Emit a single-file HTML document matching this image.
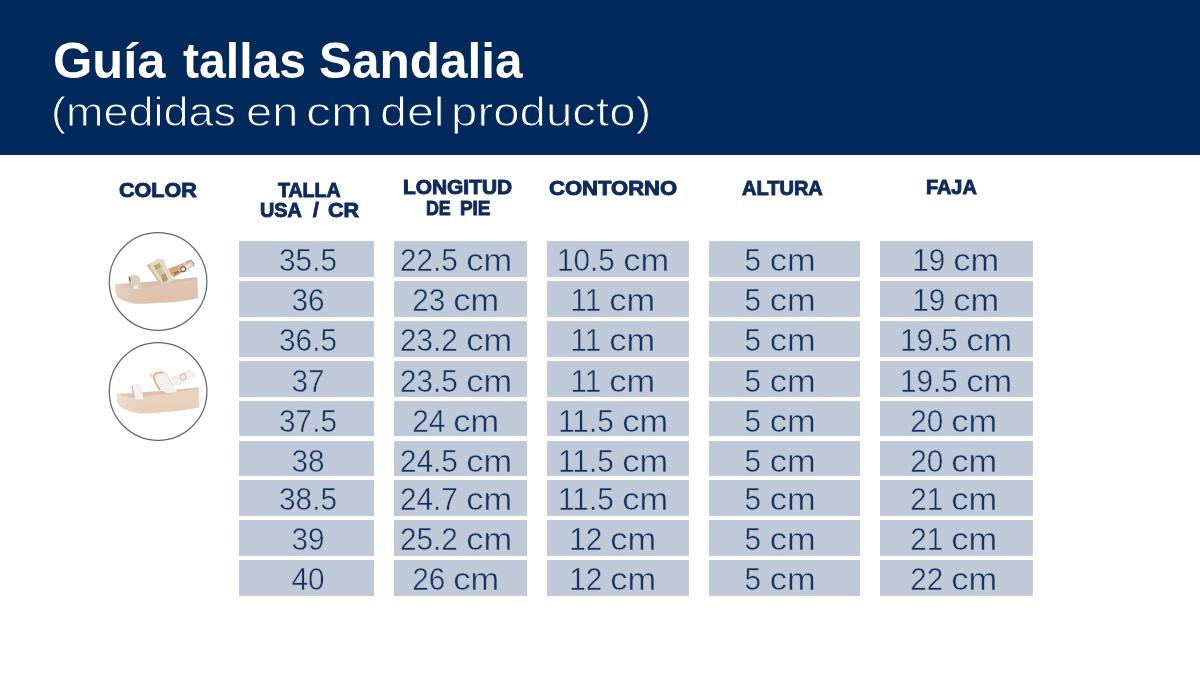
<!DOCTYPE html>
<html lang="es">
<head>
<meta charset="utf-8">
<title>Guía tallas Sandalia</title>
<style>
html,body{margin:0;padding:0;}
body{width:1200px;height:697px;position:relative;overflow:hidden;background:#fff;font-family:"Liberation Sans",sans-serif;}
.hdr{position:absolute;left:0;top:0;width:1200px;height:155px;background:#02295c;}
.g{margin:0;padding:0;font-size:0;font-weight:normal;}
.p{position:absolute;line-height:1;white-space:pre;transform-origin:0 0;}
.t1{color:#fff;font-weight:bold;font-size:49.5px;}
.t2{color:#fff;font-size:41.4px;-webkit-text-stroke:1.0px #02295c;}
.h{color:#0f2b5b;font-weight:bold;font-size:20.8px;-webkit-text-stroke:1.0px #0f2b5b;}
.c{position:absolute;height:35.7px;background:#bfc9d8;}
.v{position:absolute;width:200px;height:35.7px;line-height:39.9px;color:#14335f;font-size:32px;text-align:center;white-space:nowrap;-webkit-text-stroke:0.5px #bfc9d8;transform:scaleX(0.93);}
.u{display:inline-block;width:49.5px;text-align:left;}
.u b{display:inline-block;font-weight:normal;transform:scaleX(1.158);transform-origin:0 50%;}
svg{position:absolute;left:0;top:0;}
</style>
</head>
<body>
<div class="hdr"></div>
<h1 class="g">
<span class="p t1" style="left:52.56px;top:36.10px;transform:scaleX(1.0222)">Guía</span>
<span class="p t1" style="left:182.78px;top:36.10px;transform:scaleX(0.9720)">tallas</span>
<span class="p t1" style="left:319.25px;top:36.10px;transform:scaleX(1.0002)">Sandalia</span>
</h1>
<p class="g">
<span class="p t2" style="left:50.89px;top:91.65px;transform:scaleX(1.0873)">(medidas</span>
<span class="p t2" style="left:245.66px;top:91.65px;transform:scaleX(1.1350)">en</span>
<span class="p t2" style="left:305.88px;top:91.65px;transform:scaleX(1.2082)">cm</span>
<span class="p t2" style="left:380.08px;top:91.65px;transform:scaleX(1.1694)">del</span>
<span class="p t2" style="left:451.19px;top:91.65px;transform:scaleX(1.1458)">producto)</span>
</p>
<div class="g">
<span class="p h" style="left:119.48px;top:179.69px;transform:scaleX(1.0365)">COLOR</span>
<span class="p h" style="left:278.47px;top:179.69px;transform:scaleX(0.9403)">TALLA</span>
<span class="p h" style="left:260.02px;top:200.39px;transform:scaleX(0.9535)">USA</span>
<span class="p h" style="left:313.00px;top:200.39px;transform:scaleX(1.0000)">/</span>
<span class="p h" style="left:328.48px;top:200.39px;transform:scaleX(1.0345)">CR</span>
<span class="p h" style="left:403.00px;top:177.39px;transform:scaleX(1.0046)">LONGITUD</span>
<span class="p h" style="left:426.07px;top:198.19px;transform:scaleX(0.8571)">DE</span>
<span class="p h" style="left:459.55px;top:198.19px;transform:scaleX(0.9091)">PIE</span>
<span class="p h" style="left:549.22px;top:177.59px;transform:scaleX(1.0596)">CONTORNO</span>
<span class="p h" style="left:741.92px;top:177.69px;transform:scaleX(0.9627)">ALTURA</span>
<span class="p h" style="left:926.42px;top:176.79px;transform:scaleX(0.9547)">FAJA</span>
</div>

<div class="c" style="left:239.2px;top:241.30px;width:135.1px"></div>
<div class="v" style="left:208.3px;top:241.30px"><span class="n">35.5</span></div>
<div class="c" style="left:394.0px;top:241.30px;width:133.1px"></div>
<div class="v" style="left:355.5px;top:241.30px"><span class="n">22.5</span> <span class="u"><b>cm</b></span></div>
<div class="c" style="left:546.8px;top:241.30px;width:142.5px"></div>
<div class="v" style="left:512.5px;top:241.30px"><span class="n">10.5</span> <span class="u"><b>cm</b></span></div>
<div class="c" style="left:709.0px;top:241.30px;width:150.6px"></div>
<div class="v" style="left:680.2px;top:241.30px"><span class="n">5</span> <span class="u"><b>cm</b></span></div>
<div class="c" style="left:879.5px;top:241.30px;width:153.8px"></div>
<div class="v" style="left:855.7px;top:241.30px"><span class="n">19</span> <span class="u"><b>cm</b></span></div>
<div class="c" style="left:239.2px;top:281.14px;width:135.1px"></div>
<div class="v" style="left:208.3px;top:281.14px"><span class="n">36</span></div>
<div class="c" style="left:394.0px;top:281.14px;width:133.1px"></div>
<div class="v" style="left:355.5px;top:281.14px"><span class="n">23</span> <span class="u"><b>cm</b></span></div>
<div class="c" style="left:546.8px;top:281.14px;width:142.5px"></div>
<div class="v" style="left:512.5px;top:281.14px"><span class="n">11</span> <span class="u"><b>cm</b></span></div>
<div class="c" style="left:709.0px;top:281.14px;width:150.6px"></div>
<div class="v" style="left:680.2px;top:281.14px"><span class="n">5</span> <span class="u"><b>cm</b></span></div>
<div class="c" style="left:879.5px;top:281.14px;width:153.8px"></div>
<div class="v" style="left:855.7px;top:281.14px"><span class="n">19</span> <span class="u"><b>cm</b></span></div>
<div class="c" style="left:239.2px;top:320.98px;width:135.1px"></div>
<div class="v" style="left:208.3px;top:320.98px"><span class="n">36.5</span></div>
<div class="c" style="left:394.0px;top:320.98px;width:133.1px"></div>
<div class="v" style="left:355.5px;top:320.98px"><span class="n">23.2</span> <span class="u"><b>cm</b></span></div>
<div class="c" style="left:546.8px;top:320.98px;width:142.5px"></div>
<div class="v" style="left:512.5px;top:320.98px"><span class="n">11</span> <span class="u"><b>cm</b></span></div>
<div class="c" style="left:709.0px;top:320.98px;width:150.6px"></div>
<div class="v" style="left:680.2px;top:320.98px"><span class="n">5</span> <span class="u"><b>cm</b></span></div>
<div class="c" style="left:879.5px;top:320.98px;width:153.8px"></div>
<div class="v" style="left:855.7px;top:320.98px"><span class="n">19.5</span> <span class="u"><b>cm</b></span></div>
<div class="c" style="left:239.2px;top:360.82px;width:135.1px"></div>
<div class="v" style="left:208.3px;top:361.82px"><span class="n">37</span></div>
<div class="c" style="left:394.0px;top:360.82px;width:133.1px"></div>
<div class="v" style="left:355.5px;top:361.82px"><span class="n">23.5</span> <span class="u"><b>cm</b></span></div>
<div class="c" style="left:546.8px;top:360.82px;width:142.5px"></div>
<div class="v" style="left:512.5px;top:361.82px"><span class="n">11</span> <span class="u"><b>cm</b></span></div>
<div class="c" style="left:709.0px;top:360.82px;width:150.6px"></div>
<div class="v" style="left:680.2px;top:361.82px"><span class="n">5</span> <span class="u"><b>cm</b></span></div>
<div class="c" style="left:879.5px;top:360.82px;width:153.8px"></div>
<div class="v" style="left:855.7px;top:361.82px"><span class="n">19.5</span> <span class="u"><b>cm</b></span></div>
<div class="c" style="left:239.2px;top:400.66px;width:135.1px"></div>
<div class="v" style="left:208.3px;top:401.66px"><span class="n">37.5</span></div>
<div class="c" style="left:394.0px;top:400.66px;width:133.1px"></div>
<div class="v" style="left:355.5px;top:401.66px"><span class="n">24</span> <span class="u"><b>cm</b></span></div>
<div class="c" style="left:546.8px;top:400.66px;width:142.5px"></div>
<div class="v" style="left:512.5px;top:401.66px"><span class="n">11.5</span> <span class="u"><b>cm</b></span></div>
<div class="c" style="left:709.0px;top:400.66px;width:150.6px"></div>
<div class="v" style="left:680.2px;top:401.66px"><span class="n">5</span> <span class="u"><b>cm</b></span></div>
<div class="c" style="left:879.5px;top:400.66px;width:153.8px"></div>
<div class="v" style="left:854.4px;top:401.66px"><span class="n">20</span> <span class="u"><b>cm</b></span></div>
<div class="c" style="left:239.2px;top:440.50px;width:135.1px"></div>
<div class="v" style="left:208.3px;top:441.50px"><span class="n">38</span></div>
<div class="c" style="left:394.0px;top:440.50px;width:133.1px"></div>
<div class="v" style="left:355.5px;top:441.50px"><span class="n">24.5</span> <span class="u"><b>cm</b></span></div>
<div class="c" style="left:546.8px;top:440.50px;width:142.5px"></div>
<div class="v" style="left:512.5px;top:441.50px"><span class="n">11.5</span> <span class="u"><b>cm</b></span></div>
<div class="c" style="left:709.0px;top:440.50px;width:150.6px"></div>
<div class="v" style="left:680.2px;top:441.50px"><span class="n">5</span> <span class="u"><b>cm</b></span></div>
<div class="c" style="left:879.5px;top:440.50px;width:153.8px"></div>
<div class="v" style="left:854.4px;top:441.50px"><span class="n">20</span> <span class="u"><b>cm</b></span></div>
<div class="c" style="left:239.2px;top:480.34px;width:135.1px"></div>
<div class="v" style="left:208.3px;top:480.34px"><span class="n">38.5</span></div>
<div class="c" style="left:394.0px;top:480.34px;width:133.1px"></div>
<div class="v" style="left:355.5px;top:480.34px"><span class="n">24.7</span> <span class="u"><b>cm</b></span></div>
<div class="c" style="left:546.8px;top:480.34px;width:142.5px"></div>
<div class="v" style="left:512.5px;top:480.34px"><span class="n">11.5</span> <span class="u"><b>cm</b></span></div>
<div class="c" style="left:709.0px;top:480.34px;width:150.6px"></div>
<div class="v" style="left:680.2px;top:480.34px"><span class="n">5</span> <span class="u"><b>cm</b></span></div>
<div class="c" style="left:879.5px;top:480.34px;width:153.8px"></div>
<div class="v" style="left:854.4px;top:480.34px"><span class="n">21</span> <span class="u"><b>cm</b></span></div>
<div class="c" style="left:239.2px;top:520.18px;width:135.1px"></div>
<div class="v" style="left:208.3px;top:520.18px"><span class="n">39</span></div>
<div class="c" style="left:394.0px;top:520.18px;width:133.1px"></div>
<div class="v" style="left:355.5px;top:520.18px"><span class="n">25.2</span> <span class="u"><b>cm</b></span></div>
<div class="c" style="left:546.8px;top:520.18px;width:142.5px"></div>
<div class="v" style="left:512.5px;top:520.18px"><span class="n">12</span> <span class="u"><b>cm</b></span></div>
<div class="c" style="left:709.0px;top:520.18px;width:150.6px"></div>
<div class="v" style="left:680.2px;top:520.18px"><span class="n">5</span> <span class="u"><b>cm</b></span></div>
<div class="c" style="left:879.5px;top:520.18px;width:153.8px"></div>
<div class="v" style="left:854.4px;top:520.18px"><span class="n">21</span> <span class="u"><b>cm</b></span></div>
<div class="c" style="left:239.2px;top:560.02px;width:135.1px"></div>
<div class="v" style="left:208.3px;top:560.02px"><span class="n">40</span></div>
<div class="c" style="left:394.0px;top:560.02px;width:133.1px"></div>
<div class="v" style="left:355.5px;top:560.02px"><span class="n">26</span> <span class="u"><b>cm</b></span></div>
<div class="c" style="left:546.8px;top:560.02px;width:142.5px"></div>
<div class="v" style="left:512.5px;top:560.02px"><span class="n">12</span> <span class="u"><b>cm</b></span></div>
<div class="c" style="left:709.0px;top:560.02px;width:150.6px"></div>
<div class="v" style="left:680.2px;top:560.02px"><span class="n">5</span> <span class="u"><b>cm</b></span></div>
<div class="c" style="left:879.5px;top:560.02px;width:153.8px"></div>
<div class="v" style="left:854.4px;top:560.02px"><span class="n">22</span> <span class="u"><b>cm</b></span></div>

<svg width="1200" height="697" viewBox="0 0 1200 697">
<defs>
<filter id="bl" x="-10%" y="-10%" width="120%" height="120%"><feGaussianBlur stdDeviation="8"/></filter>
<linearGradient id="sg1" x1="0" y1="0" x2="0" y2="1"><stop offset="0" stop-color="#e0c6b4"/><stop offset="1" stop-color="#dcc1ab"/></linearGradient>
<linearGradient id="sg2" x1="0" y1="0" x2="0" y2="1"><stop offset="0" stop-color="#ead4c2"/><stop offset="1" stop-color="#e7ceb8"/></linearGradient>
<linearGradient id="bs1" gradientUnits="userSpaceOnUse" x1="700" y1="260" x2="1000" y2="150"><stop offset="0" stop-color="#d9a066"/><stop offset="0.45" stop-color="#d9ab92"/><stop offset="1" stop-color="#e9d6cd"/></linearGradient>
<linearGradient id="fade" gradientUnits="userSpaceOnUse" x1="80" y1="0" x2="380" y2="0"><stop offset="0" stop-color="#fff" stop-opacity="0.25"/><stop offset="1" stop-color="#fff" stop-opacity="0"/></linearGradient>
</defs>
<!-- sandal 1 : gold -->
<g transform="translate(108,250) scale(0.08606)" filter="url(#bl)">
<path d="M85,395 C300,388 700,352 1040,316 L1048,560 C900,592 720,612 600,613 C470,626 360,630 300,621 C200,602 130,572 105,540 C85,500 76,440 85,395 Z" fill="url(#sg1)"/>
<path d="M98,398 C330,390 720,352 1032,320 L1034,338 C840,366 640,400 440,425 C330,440 180,440 120,425 Z" fill="#dcbaac"/>
<rect x="70" y="370" width="320" height="270" fill="url(#fade)"/>
<!-- back strap -->
<path d="M698,218 L965,116 L1002,160 L990,190 L770,318 L735,296 Z" fill="url(#bs1)"/>
<path d="M905,145 L965,120 L1000,162 L985,188" fill="none" stroke="#9a8a82" stroke-width="12"/>
<path d="M820,222 L948,160 L970,175 L958,195 L850,250 Z" fill="#f1e4dc"/>
<circle cx="874" cy="224" r="30" fill="none" stroke="#4a403a" stroke-width="11"/>
<path d="M760,262 L820,240 L830,262 L775,290 Z" fill="#8c7a62"/>
<!-- mid strap -->
<path d="M448,178 L585,100 L650,112 C680,200 730,300 768,350 L650,398 L590,386 C545,300 492,240 448,178 Z" fill="#e2dac4"/>
<path d="M448,178 L478,166 C522,250 585,335 628,395 L590,386 C545,300 492,240 448,178 Z" fill="#dbb2a2"/>
<path d="M530,180 L600,150 L625,200 L560,235 Z" fill="#bda877"/>
<path d="M610,290 L665,270 L700,350 L640,380 Z" fill="#aa9c6c"/>
<path d="M560,235 L625,205 L660,270 L600,300 Z" fill="#cbc3a8"/>
<!-- front strap -->
<path d="M236,312 C250,288 330,282 352,300 C376,330 386,400 386,446 L300,456 C296,420 286,382 270,360 C256,342 240,332 236,312 Z" fill="#d6d3bf"/>
<path d="M240,318 L262,330 L272,395 L250,385 Z" fill="#d39a78"/>
<path d="M243,312 L256,318 L262,362 L250,356 Z" fill="#5a4a38"/>
<path d="M295,420 L345,412 L350,445 L302,452 Z" fill="#f3eee4"/>
</g>
<!-- sandal 2 : white -->
<g transform="translate(108,360) scale(0.08606)" filter="url(#bl)">
<path d="M100,388 C320,384 720,350 1055,316 L1062,552 C920,580 780,598 700,602 C560,616 420,626 350,621 C250,600 160,566 125,530 C102,495 94,440 100,388 Z" fill="url(#sg2)"/>
<path d="M140,392 C360,386 720,352 1040,322 L1042,338 C850,364 660,398 470,420 C360,434 220,432 160,420 Z" fill="#dfc0b2"/>
<rect x="70" y="370" width="320" height="270" fill="url(#fade)"/>
<!-- back strap -->
<path d="M730,210 L972,114 L1020,170 L1005,196 L820,300 L775,292 Z" fill="#f3eeeb"/>
<path d="M730,210 L972,114" fill="none" stroke="#e6dcd8" stroke-width="8"/>
<rect x="842" y="166" width="62" height="62" rx="18" transform="rotate(-22 873 197)" fill="none" stroke="#e3b5b2" stroke-width="13"/>
<!-- mid strap -->
<path d="M470,170 L600,102 L665,125 C705,210 765,310 805,372 L690,384 L615,352 C570,285 515,225 470,170 Z" fill="#f4f0ed"/>
<path d="M470,170 L500,160 L530,205 Z" fill="#ead0c6"/>
<path d="M604,350 C572,300 542,252 532,202 C530,172 558,149 586,148 L640,146" fill="none" stroke="#d9ae76" stroke-width="20"/>
<path d="M640,146 C682,152 704,205 757,296" fill="none" stroke="#edd2c6" stroke-width="12"/>
<!-- front strap -->
<path d="M264,292 C285,278 355,274 377,286 C396,335 407,410 408,455 L318,462 C312,425 298,372 286,345 C275,325 266,310 264,292 Z" fill="#f5f1ee"/>
<path d="M270,300 L286,312 L312,440 L298,436 Z" fill="#d8a993"/>
</g>

<circle cx="158.1" cy="281.5" r="48.8" fill="none" stroke="#666" stroke-width="1.25"/>
<circle cx="158.1" cy="391.5" r="48.8" fill="none" stroke="#666" stroke-width="1.25"/>
</svg>
</body>
</html>
